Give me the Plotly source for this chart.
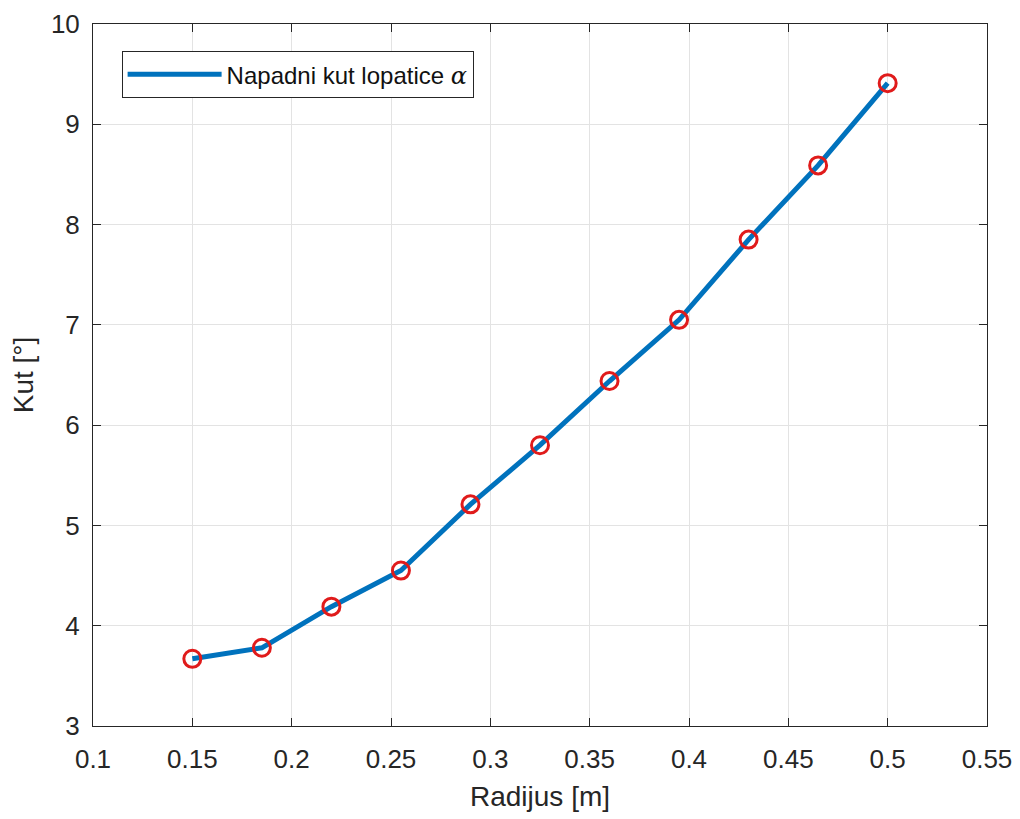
import plotly.graph_objects as go

radius_m = [0.15, 0.185, 0.22, 0.255, 0.29, 0.325, 0.36, 0.395, 0.43, 0.465, 0.5]
angle_deg = [3.67, 3.78, 4.19, 4.55, 5.21, 5.80, 6.44, 7.05, 7.85, 8.59, 9.41]
x_ticks = [0.1, 0.15, 0.2, 0.25, 0.3, 0.35, 0.4, 0.45, 0.5, 0.55]
x_tick_labels = ["0.1", "0.15", "0.2", "0.25", "0.3", "0.35", "0.4", "0.45", "0.5", "0.55"]
y_ticks = [3, 4, 5, 6, 7, 8, 9, 10]

FONT = "Liberation Sans, Arial, Helvetica, sans-serif"
AX = "#262626"
GRID = "#e3e3e3"

fig = go.Figure()
fig.add_trace(go.Scatter(
    x=radius_m, y=angle_deg, mode="lines",
    line=dict(color="#0072BD", width=5),
    name='Napadni kut lopatice <span style="font-family:DejaVu Serif;font-style:italic">α</span>',
    showlegend=True,
))
fig.add_trace(go.Scatter(
    x=radius_m, y=angle_deg, mode="markers",
    marker=dict(symbol="circle-open", size=17, color="#e01b1b", line=dict(width=3, color="#e01b1b")),
    showlegend=False, hoverinfo="skip",
))

axis_common = dict(
    showline=True, linecolor=AX, linewidth=1, mirror="ticks",
    ticks="inside", ticklen=8, tickcolor=AX, tickwidth=1,
    showgrid=True, gridcolor=GRID, gridwidth=1, zeroline=False,
    tickfont=dict(family=FONT, size=26, color=AX),
    automargin=False,
)

fig.update_xaxes(
    range=[0.1, 0.55], tickmode="array", tickvals=x_ticks, ticktext=x_tick_labels,
    title=dict(text="Radijus [m]", font=dict(family=FONT, size=28, color=AX), standoff=13),
    ticklabelstandoff=10,
    **axis_common,
)
fig.update_yaxes(
    range=[3, 10], tickmode="array", tickvals=y_ticks,
    title=dict(text="Kut [°]", font=dict(family=FONT, size=28, color=AX), standoff=14),
    ticklabelstandoff=7,
    **axis_common,
)

fig.update_layout(
    width=1020, height=819,
    margin=dict(l=85, r=41, t=16, b=101),
    paper_bgcolor="white", plot_bgcolor="white",
    font=dict(family=FONT, color=AX),
    legend=dict(
        x=0.032, y=0.9615, xanchor="left", yanchor="top",
        bgcolor="white", bordercolor=AX, borderwidth=1,
        font=dict(family=FONT, size=24, color="#111111"),
        itemwidth=94,
    ),
)

fig.write_html("out.html")
